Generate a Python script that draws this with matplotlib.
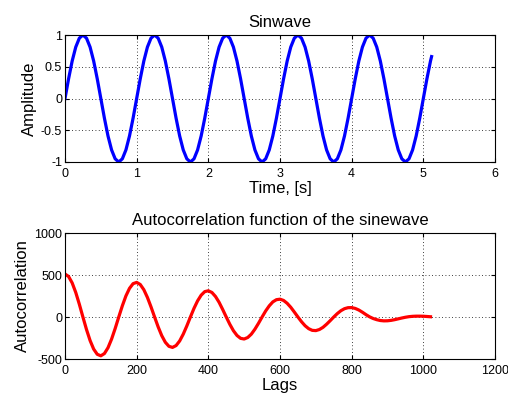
import numpy as np
import matplotlib.pyplot as plt

plt.rcParams['font.family'] = ['Liberation Sans', 'DejaVu Sans']
plt.rcParams['axes.unicode_minus'] = False

# sinewave samples, every 0.05 s, plus the last sample at 5.115 s
time_s = [
    0.00, 0.05, 0.10, 0.15, 0.20, 0.25, 0.30, 0.35, 0.40, 0.45,
    0.50, 0.55, 0.60, 0.65, 0.70, 0.75, 0.80, 0.85, 0.90, 0.95,
    1.00, 1.05, 1.10, 1.15, 1.20, 1.25, 1.30, 1.35, 1.40, 1.45,
    1.50, 1.55, 1.60, 1.65, 1.70, 1.75, 1.80, 1.85, 1.90, 1.95,
    2.00, 2.05, 2.10, 2.15, 2.20, 2.25, 2.30, 2.35, 2.40, 2.45,
    2.50, 2.55, 2.60, 2.65, 2.70, 2.75, 2.80, 2.85, 2.90, 2.95,
    3.00, 3.05, 3.10, 3.15, 3.20, 3.25, 3.30, 3.35, 3.40, 3.45,
    3.50, 3.55, 3.60, 3.65, 3.70, 3.75, 3.80, 3.85, 3.90, 3.95,
    4.00, 4.05, 4.10, 4.15, 4.20, 4.25, 4.30, 4.35, 4.40, 4.45,
    4.50, 4.55, 4.60, 4.65, 4.70, 4.75, 4.80, 4.85, 4.90, 4.95,
    5.00, 5.05, 5.10, 5.115,
]
amplitude = [
    0, .31, .59, .81, .95, 1, .95, .81, .59, .31, 0, -.31, -.59, -.81, -.95, -1, -.95, -.81, -.59, -.31,
    0, .31, .59, .81, .95, 1, .95, .81, .59, .31, 0, -.31, -.59, -.81, -.95, -1, -.95, -.81, -.59, -.31,
    0, .31, .59, .81, .95, 1, .95, .81, .59, .31, 0, -.31, -.59, -.81, -.95, -1, -.95, -.81, -.59, -.31,
    0, .31, .59, .81, .95, 1, .95, .81, .59, .31, 0, -.31, -.59, -.81, -.95, -1, -.95, -.81, -.59, -.31,
    0, .31, .59, .81, .95, 1, .95, .81, .59, .31, 0, -.31, -.59, -.81, -.95, -1, -.95, -.81, -.59, -.31,
    0, .31, .59, .66,
]

# autocorrelation, every 10 lags
lags = list(range(0, 1030, 10))
autocorr = [
    512, 482, 406, 292, 152, 0, -149, -280, -382, -444,
    -462, -435, -366, -263, -137, 0, 133, 251, 341, 397,
    412, 387, 325, 233, 121, 0, -118, -222, -301, -349,
    -362, -340, -285, -204, -106, 0, 103, 192, 260, 302,
    312, 292, 244, 175, 90, 0, -87, -163, -220, -254,
    -262, -244, -204, -145, -75, 0, 72, 133, 180, 206,
    212, 197, 163, 116, 59, 0, -56, -104, -139, -159,
    -162, -149, -123, -86, -44, 0, 41, 75, 99, 111,
    112, 102, 83, 57, 28, 2, -18, -32, -42, -46,
    -45, -40, -32, -22, -12, -3, 4, 8, 10, 10,
    9, 6, 3,
]

fig = plt.figure(figsize=(5.08, 3.97), dpi=100)
ax1 = fig.add_axes([65 / 508, 1 - 162 / 397, 430 / 508, 127 / 397])
ax2 = fig.add_axes([65 / 508, 1 - 359 / 397, 430 / 508, 126 / 397])

ax1.plot(time_s, amplitude, color='#0000ff', lw=2.3)
ax1.set_xlim(0, 6)
ax1.set_ylim(-1, 1)
ax1.set_yticks([-1, -0.5, 0, 0.5, 1])
ax1.set_yticklabels(['-1', '-0.5', '0', '0.5', '1'])
ax1.set_title('Sinwave', fontsize=12, pad=6)
ax1.set_xlabel('Time, [s]', fontsize=12, labelpad=1)
ax1.set_ylabel('Amplitude', fontsize=12, labelpad=3)

ax2.plot(lags, autocorr, color='#ff0000', lw=2.3)
ax2.set_xlim(0, 1200)
ax2.set_ylim(-500, 1000)
ax2.set_yticks([-500, 0, 500, 1000])
ax2.set_title('Autocorrelation function of the sinewave', fontsize=12, pad=6)
ax2.set_xlabel('Lags', fontsize=12, labelpad=1)
ax2.set_ylabel('Autocorrelation', fontsize=12, labelpad=3)

for ax in (ax1, ax2):
    ax.grid(True, color='black', linestyle=(0, (1, 3)), linewidth=0.6)
    ax.tick_params(direction='in', top=True, right=True, labelsize=9, length=3)
    ax.tick_params(axis='x', pad=4)
    ax.tick_params(axis='y', pad=2)
    for s in ax.spines.values():
        s.set_linewidth(0.8)

fig.savefig('out.png', dpi=100)
